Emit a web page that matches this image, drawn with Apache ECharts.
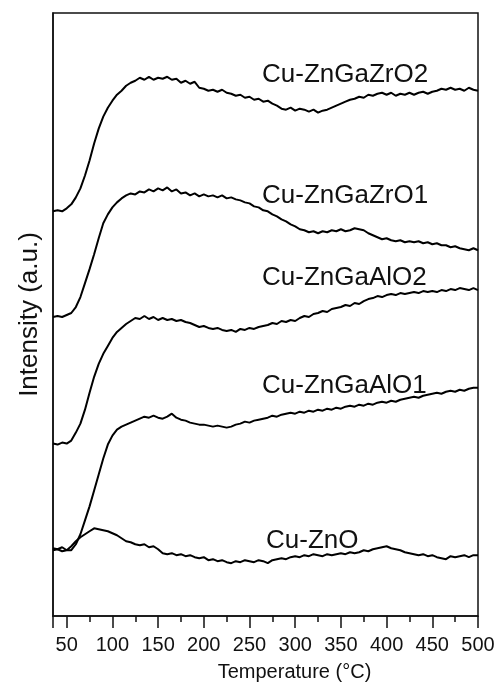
<!DOCTYPE html>
<html>
<head>
<meta charset="utf-8">
<script src="https://cdn.jsdelivr.net/npm/echarts@6/dist/echarts.min.js"></script>
<style>
  html, body { margin: 0; padding: 0; background: #fff; }
  #chart { width: 498px; height: 687px; }
</style>
</head>
<body>
<div id="chart"></div>
<script>
// temperature grid (°C)
var temps = [35,40,45,50,55,60,65,70,75,80,
  85,90,95,100,105,110,115,120,125,130,
  135,140,145,150,155,160,165,170,175,180,
  185,190,195,200,205,210,215,220,225,230,
  235,240,245,250,255,260,265,270,275,280,
  285,290,295,300,305,310,315,320,325,330,
  335,340,345,350,355,360,365,370,375,380,
  385,390,395,400,405,410,415,420,425,430,
  435,440,445,450,455,460,465,470,475,480,
  485,490,495,500];

// intensity (a.u., stacked offsets as in the figure)
var zrO2 = [406,407,406,409,413,420,429,442,457,474,
  489,501,510,517,523,527,532,535,537,540,
  538,541,538,540,539,541,538,539,535,537,
  534,536,530,529,527,528,526,528,525,524,
  522,523,520,521,518,519,516,517,514,512,
  509,508,510,507,509,508,506,508,505,507,
  508,510,512,514,516,518,519,521,520,523,
  522,524,525,523,525,522,524,523,525,523,
  525,526,524,526,527,529,528,530,528,529,
  527,530,528,527];

var zrO1 = [300,301,300,302,304,310,320,334,348,363,
  379,394,403,410,415,419,422,424,423,426,
  425,428,426,429,427,430,426,428,424,425,
  422,424,421,423,421,422,420,422,419,420,
  418,417,415,414,411,410,407,406,403,401,
  398,396,393,391,388,387,385,386,384,386,
  385,387,386,388,386,387,389,388,387,384,
  382,380,378,379,377,376,377,375,376,375,
  376,374,375,373,374,372,372,370,371,369,
  368,367,369,367];

var alO2 = [173,172,174,173,176,184,193,207,224,240,
  253,263,271,279,285,289,293,296,299,298,
  301,298,300,297,299,297,298,296,297,295,
  294,292,290,291,289,288,289,287,286,287,
  285,288,287,289,288,290,291,292,294,293,
  296,295,297,296,299,301,300,303,304,306,
  305,308,309,310,312,311,314,313,316,318,
  319,321,320,322,323,322,324,323,324,325,
  324,326,325,326,325,327,326,328,327,329,
  328,327,329,327];

var alO1 = [66,67,65,66,66,72,82,96,110,126,
  142,158,172,181,187,190,192,194,196,198,
  200,199,201,199,198,200,203,199,197,196,
  194,193,192,192,191,190,191,190,189,190,
  192,193,195,194,196,197,198,199,201,200,
  202,203,204,203,205,204,206,205,207,206,
  208,207,209,208,210,211,210,212,211,213,
  212,214,215,214,216,215,217,218,219,220,
  219,221,222,223,224,223,225,226,225,227,
  226,228,229,229];

var znO = [68,67,69,66,70,75,79,82,85,88,
  87,86,85,83,81,78,75,74,72,71,
  72,69,70,67,63,62,63,61,62,60,
  61,59,58,59,56,57,55,56,54,53,
  55,54,56,55,54,56,55,53,56,57,
  58,57,59,60,59,61,60,62,61,60,
  62,61,62,63,62,64,63,64,66,65,
  67,68,69,70,68,67,66,64,63,62,
  61,62,60,61,59,58,57,60,59,60,
  61,59,61,61];

var names = ['Cu-ZnGaZrO2', 'Cu-ZnGaZrO1', 'Cu-ZnGaAlO2', 'Cu-ZnGaAlO1', 'Cu-ZnO'];
var curves = [zrO2, zrO1, alO2, alO1, znO];

var font = "'Liberation Sans', Arial, sans-serif";

function pairs(ys) {
    return temps.map(function (t, i) { return [t, ys[i]]; });
}

var chart = echarts.init(document.getElementById('chart'));

var labelPos = [[262, 62], [262, 183], [262, 265], [262, 373], [266, 528]];

chart.setOption({
    backgroundColor: '#fff',
    animation: false,
    grid: {
        left: 53,
        right: 20,
        top: 13,
        bottom: 69,
        show: true,
        borderColor: '#111',
        borderWidth: 1.5
    },
    xAxis: {
        type: 'value',
        min: 35,
        max: 500,
        splitNumber: 10,
        name: 'Temperature (°C)',
        nameLocation: 'middle',
        nameGap: 46,
        nameTextStyle: {
            color: '#111',
            fontFamily: font,
            fontSize: 20,
            padding: [0, 0, 0, 58]
        },
        axisLine: { show: true, lineStyle: { color: '#111', width: 1.5 } },
        axisTick: { show: true, inside: false, length: 12, lineStyle: { color: '#111', width: 1.5 } },
        minorTick: { show: true, splitNumber: 2, length: 6, lineStyle: { color: '#111', width: 1.5 } },
        axisLabel: {
            showMinLabel: false,
            margin: 19,
            color: '#111',
            fontFamily: font,
            fontSize: 20
        },
        splitLine: { show: false }
    },
    yAxis: {
        type: 'value',
        min: 0,
        max: 605,
        name: 'Intensity (a.u.)',
        nameLocation: 'middle',
        nameGap: 10,
        nameTextStyle: {
            color: '#111',
            fontFamily: font,
            fontSize: 26
        },
        axisLine: { show: true, lineStyle: { color: '#111', width: 1.5 } },
        axisTick: { show: false },
        axisLabel: { show: false },
        splitLine: { show: false }
    },
    graphic: names.map(function (n, i) {
        return {
            type: 'text',
            left: labelPos[i][0],
            top: labelPos[i][1],
            style: {
                text: n,
                font: '26px ' + font,
                fill: '#111'
            }
        };
    }),
    series: curves.map(function (c, i) {
        return {
            name: names[i],
            type: 'line',
            data: pairs(c),
            showSymbol: false,
            lineStyle: { color: '#000', width: 2 }
        };
    })
});
</script>
</body>
</html>
